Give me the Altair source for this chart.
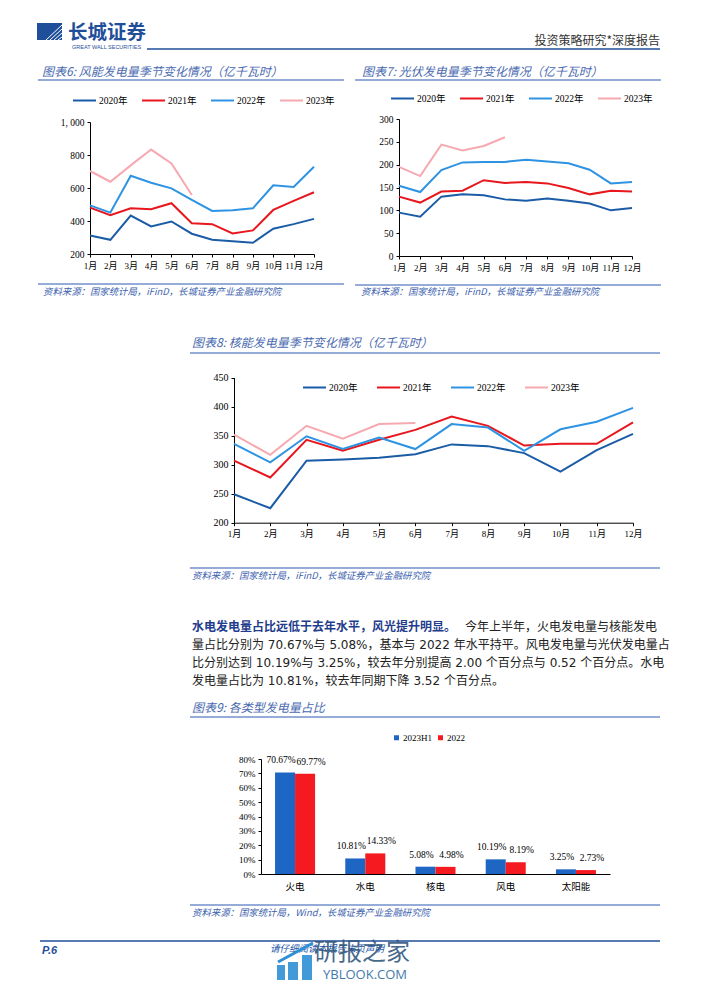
import altair as alt
import pandas as pd

# ---------------- data ----------------
months = ["1月", "2月", "3月", "4月", "5月", "6月", "7月", "8月", "9月", "10月", "11月", "12月"]
years = ["2020年", "2021年", "2022年", "2023年"]
year_colors = ["#1B5CA6", "#E8161D", "#2E93E2", "#F6A9B0"]

wind_2020 = [312, 286, 433, 367, 397, 323, 286, 278, 268, 353, 381, 413]
wind_2021 = [481, 435, 477, 471, 508, 387, 381, 325, 343, 467, 522, 574]
wind_2022 = [495, 451, 674, 632, 598, 528, 461, 465, 477, 616, 606, 729]
wind_2023 = [703, 638, 737, 833, 749, 558]

solar_2020 = [95, 86, 130, 135, 133, 124, 121, 126, 121, 115, 100, 105]
solar_2021 = [130, 117, 141, 143, 166, 160, 162, 159, 149, 135, 143, 141]
solar_2022 = [154, 140, 188, 205, 206, 206, 211, 207, 203, 189, 159, 162]
solar_2023 = [195, 175, 244, 231, 241, 260]

nuclear_2020 = [249, 225, 307, 309, 312, 318, 335, 332, 320, 288, 325, 353]
nuclear_2021 = [307, 278, 343, 324, 343, 360, 383, 367, 333, 336, 336, 373]
nuclear_2022 = [336, 304, 349, 327, 347, 327, 370, 364, 324, 361, 374, 398]
nuclear_2023 = [352, 317, 367, 345, 370, 372]

wind_ticks = [200, 400, 600, 800, 1000]
solar_ticks = [0, 50, 100, 150, 200, 250, 300]
nuclear_ticks = [200, 250, 300, 350, 400, 450]

cats = ["火电", "水电", "核电", "风电", "太阳能"]
share_series = ["2023H1", "2022"]
share_h1 = [70.67, 10.81, 5.08, 10.19, 3.25]
share_2022 = [69.77, 14.33, 4.98, 8.19, 2.73]
share_ticks = [0, 10, 20, 30, 40, 50, 60, 70, 80]
bar_colors = ["#1E66C3", "#F51A1F"]

title6 = "图表6:  风能发电量季节变化情况（亿千瓦时）"
title7 = "图表7:  光伏发电量季节变化情况（亿千瓦时）"
title8 = "图表8:  核能发电量季节变化情况（亿千瓦时）"
title9 = "图表9:  各类型发电量占比"
src_ifind = "资料来源：国家统计局，iFinD，长城证券产业金融研究院"
src_wind = "资料来源：国家统计局，Wind，长城证券产业金融研究院"
para_bold = "水电发电量占比远低于去年水平，风光提升明显。"
para_lines = [
    "今年上半年，火电发电量与核能发电",
    "量占比分别为 70.67%与 5.08%，基本与 2022 年水平持平。风电发电量与光伏发电量占",
    "比分别达到 10.19%与 3.25%，较去年分别提高 2.00 个百分点与 0.52 个百分点。水电",
    "发电量占比为 10.81%，较去年同期下降 3.52 个百分点。",
]

# ---------------- styles ----------------
CJK = "Noto Sans CJK SC"
SERIF = "Liberation Serif, Noto Sans CJK SC"
PARA = "DejaVu Sans, Noto Sans CJK SC"
TITLE_C = "#4A6AB0"
SRC_C = "#3C62AE"
LINE_C = "#7391CB"
DARK = "#1F4E9A"


def one(txt):
    return pd.DataFrame({"t": [txt]})


def label(x, y, txt, size=10, color="#000000", font=CJK, align="left",
          style="normal", weight="normal", opacity=1.0):
    return alt.Chart(one(txt)).mark_text(
        align=align, baseline="middle", fontSize=size, color=color, font=font,
        fontStyle=style, fontWeight=weight, opacity=opacity
    ).encode(x=alt.value(x), y=alt.value(y), text="t:N")


def hline(x1, x2, y, color=LINE_C, w=1.5):
    return alt.Chart(one("")).mark_rule(color=color, strokeWidth=w).encode(
        x=alt.value(x1), x2=alt.value(x2), y=alt.value(y))


def seg(x1, y1, x2, y2, color, w):
    return alt.Chart(one("")).mark_rule(color=color, strokeWidth=w).encode(
        x=alt.value(x1), x2=alt.value(x2), y=alt.value(y1), y2=alt.value(y2))


def box(x1, y1, x2, y2, color, opacity=1.0):
    return alt.Chart(one("")).mark_rect(color=color, opacity=opacity).encode(
        x=alt.value(x1), x2=alt.value(x2), y=alt.value(y1), y2=alt.value(y2))


def long_table(series):
    rows = []
    for yr, vals in zip(years, series):
        for m, v in zip(months, vals):
            rows.append({"year": yr, "month": m, "value": v})
    return pd.DataFrame(rows)


def line_layer(H, series, xr, yr_, ydom, yticks, lx, ly, col_pad,
               ylab_size=9.5, xlab_size=9, label_expr=None):
    df = long_table(series)
    yaxis_kw = dict(values=yticks, offset=-xr[0], orient="left", title=None, grid=False,
                    labelFont=SERIF, labelFontSize=ylab_size, labelColor="#000000",
                    domainColor="#000000", tickColor="#000000", tickSize=3, labelPadding=3)
    if label_expr:
        yaxis_kw["labelExpr"] = label_expr
    return alt.Chart(df).mark_line(strokeWidth=2).encode(
        x=alt.X("month:N", sort=months,
                scale=alt.Scale(type="point", domain=months, range=list(xr), padding=0),
                axis=alt.Axis(orient="bottom", offset=yr_[0] - H, title=None, grid=False,
                              labelAngle=0, labelFont=SERIF, labelFontSize=xlab_size,
                              labelColor="#000000", domainColor="#000000", tickColor="#000000",
                              tickSize=3, labelPadding=4, labelOverlap=False)),
        y=alt.Y("value:Q", scale=alt.Scale(domain=ydom, range=list(yr_), nice=False, zero=False),
                axis=alt.Axis(**yaxis_kw)),
        color=alt.Color("year:N", sort=years,
                        scale=alt.Scale(domain=years, range=year_colors),
                        legend=alt.Legend(orient="none", legendX=lx, legendY=ly,
                                          direction="horizontal", title=None,
                                          labelFont=SERIF, labelFontSize=9.5,
                                          labelColor="#000000", symbolType="stroke",
                                          symbolSize=529, symbolStrokeWidth=2,
                                          columnPadding=col_pad, labelOffset=2, padding=0)),
    )


# ---------------- header (page y 8..60) ----------------
header = alt.layer(
    box(29, 15, 54, 32, DARK),
    seg(38, 32, 54, 17, "#FFFFFF", 1),
    seg(42, 32, 54, 21, "#FFFFFF", 1),
    seg(46, 32, 54, 25, "#FFFFFF", 1),
    seg(50, 32, 54, 29, "#FFFFFF", 1),
    label(60, 25, "长城证券", size=19.5, color=DARK, weight="bold"),
    label(64, 39, "GREAT WALL SECURITIES", size=5.5, color=DARK, font="Liberation Sans"),
    hline(139, 652, 41, color=DARK, w=1.5),
    label(652, 33, "投资策略研究*深度报告", size=12, color="#333333", align="right"),
).properties(width=686, height=52)

# ---------------- chart 6 (x 8..351, y 60..300) ----------------
c6 = alt.layer(
    line_layer(240, [wind_2020, wind_2021, wind_2022, wind_2023],
               (82, 306), (194, 62), [200, 1000], wind_ticks, 64, 28, 10,
               label_expr="replace(datum.label, ',', ', ')"),
    label(34, 12, title6, size=12, color=TITLE_C, style="italic"),
    hline(30, 336, 20),
    hline(30, 336, 224),
    label(35, 232, src_ifind, size=9.4, color=SRC_C, style="italic"),
).properties(width=343, height=240)

# ---------------- chart 7 (x 351..694, y 60..300) ----------------
c7 = alt.layer(
    line_layer(240, [solar_2020, solar_2021, solar_2022, solar_2023],
               (48, 281), (196, 59), [0, 300], solar_ticks, 39, 26, 10),
    label(11, 12, title7, size=12, color=TITLE_C, style="italic"),
    hline(4, 310, 20),
    hline(4, 310, 225),
    label(10, 232, src_ifind, size=9.4, color=SRC_C, style="italic"),
).properties(width=343, height=240)

row2 = alt.hconcat(c6, c7, spacing=0).resolve_scale(color="independent")

# ---------------- chart 8 (y 300..585) ----------------
c8 = alt.layer(
    line_layer(285, [nuclear_2020, nuclear_2021, nuclear_2022, nuclear_2023],
               (226, 625), (222.7, 77.7), [200, 450], nuclear_ticks, 294, 75, 15,
               ylab_size=10),
    label(184, 43, title8, size=12, color=TITLE_C, style="italic"),
    hline(182, 652, 53),
    hline(182, 652, 268),
    label(184, 276, src_ifind, size=9.4, color=SRC_C, style="italic"),
).properties(width=686, height=285)

# ---------------- paragraph (y 585..698) ----------------
para = alt.layer(
    label(184, 42, para_bold, size=12, color="#1F3D8C", weight="bold", font=PARA),
    label(457, 42, para_lines[0], size=12, color="#222222", font=PARA),
    label(184, 60, para_lines[1], size=12, color="#222222", font=PARA),
    label(184, 78, para_lines[2], size=12, color="#222222", font=PARA),
    label(184, 96, para_lines[3], size=12, color="#222222", font=PARA),
).properties(width=686, height=113)

# ---------------- chart 9 (y 698..924) ----------------
rows9 = []
for c, a, b in zip(cats, share_h1, share_2022):
    rows9.append({"cat": c, "series": share_series[0], "pct": a})
    rows9.append({"cat": c, "series": share_series[1], "pct": b})
df9 = pd.DataFrame(rows9)

base9 = alt.Chart(df9).transform_calculate(
    lab="format(datum.pct, '.2f') + '%'"
).encode(
    x=alt.X("cat:N", sort=cats,
            scale=alt.Scale(domain=cats, range=[253, 602], paddingInner=0.43, paddingOuter=0.2),
            axis=alt.Axis(orient="bottom", offset=176 - 226, ticks=False, labelAngle=0,
                          labelFont=CJK, labelFontSize=9.5, labelPadding=7, title=None,
                          domainColor="#000000", labelColor="#000000", grid=False)),
    xOffset=alt.XOffset("series:N", sort=share_series,
                        scale=alt.Scale(domain=share_series, paddingInner=0, paddingOuter=0)),
    y=alt.Y("pct:Q", scale=alt.Scale(domain=[0, 80], range=[176, 61], nice=False),
            axis=alt.Axis(values=share_ticks, labelExpr="datum.value + '%'", offset=-253,
                          orient="left", title=None, grid=False, labelFont=SERIF,
                          labelFontSize=9, labelColor="#000000", domainColor="#000000",
                          tickColor="#000000", tickSize=3, labelPadding=3)),
)
bars9 = base9.mark_bar().encode(
    color=alt.Color("series:N", sort=share_series,
                    scale=alt.Scale(domain=share_series, range=bar_colors),
                    legend=alt.Legend(orient="none", legendX=384, legendY=35,
                                      direction="horizontal", title=None, labelFont=SERIF,
                                      labelFontSize=9, labelColor="#000000",
                                      symbolType="square", symbolSize=25,
                                      columnPadding=4, labelOffset=2, padding=0))
)
text9_a = base9.transform_filter(
    alt.datum.series == share_series[0]
).mark_text(baseline="bottom", dy=-7, dx=-4, fontSize=9.5, font=SERIF,
            color="#000000").encode(text="lab:N")
text9_b = base9.transform_filter(
    alt.datum.series == share_series[1]
).mark_text(baseline="bottom", dy=-7, dx=6, fontSize=9.5, font=SERIF,
            color="#000000").encode(text="lab:N")

c9 = alt.layer(
    bars9, text9_a, text9_b,
    label(184, 10, title9, size=12, color=TITLE_C, style="italic"),
    hline(182, 652, 19),
    hline(182, 652, 207),
    label(184, 215, src_wind, size=9.4, color=SRC_C, style="italic"),
).properties(width=686, height=226)

# ---------------- footer (y 924..983) ----------------
footer = alt.layer(
    hline(32, 652, 17, color=DARK, w=1.5),
    label(34, 27, "P.6", size=11, color=DARK, style="italic", weight="bold",
          font="Liberation Sans"),
    label(262, 25, "请仔细阅读本报告末页声明", size=9.5, color="#2456A6", style="italic"),
    box(269, 41, 277, 56, "#2D8FD5", 0.9),
    box(280, 38, 290, 56, "#2D8FD5", 0.9),
    box(294, 31, 304, 56, "#2D8FD5", 0.9),
    seg(270, 38, 305, 19, "#2D8FD5", 3),
    label(306, 29, "研报之家", size=24, color="#34597E", opacity=0.9),
    label(315, 51, "YBLOOK.COM", size=13, color="#2F6CA3", font="Open Sans", opacity=0.9),
).properties(width=686, height=59)

chart = alt.vconcat(
    header, row2, c8, para, c9, footer, spacing=0
).resolve_scale(color="independent").properties(padding=0).configure_view(stroke=None)

chart.save("out.html", embed_options={"renderer": "svg", "actions": False})
